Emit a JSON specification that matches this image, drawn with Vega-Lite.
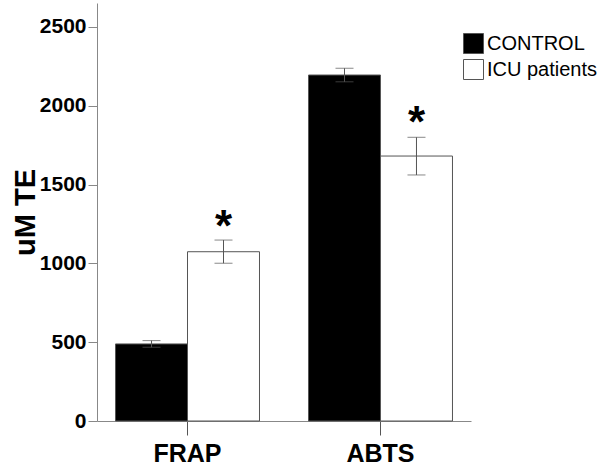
{
  "$schema": "https://vega.github.io/schema/vega-lite/v6.json",
  "width": 374,
  "height": 418,
  "autosize": {"type": "none"},
  "padding": {"left": 97, "top": 3, "right": 129, "bottom": 49},
  "config": {"view": {"stroke": null}, "font": "Liberation Sans"},
  "data": {
    "values": [
      {"assay": "FRAP", "group": "CONTROL", "mean": 489, "lo": 468, "hi": 510},
      {"assay": "FRAP", "group": "ICU patients", "mean": 1074, "lo": 1001, "hi": 1148, "star": 1143},
      {"assay": "ABTS", "group": "CONTROL", "mean": 2195, "lo": 2152, "hi": 2238},
      {"assay": "ABTS", "group": "ICU patients", "mean": 1681, "lo": 1561, "hi": 1800, "star": 1805}
    ]
  },
  "encoding": {
    "x": {
      "field": "assay",
      "type": "nominal",
      "sort": ["FRAP", "ABTS"],
      "scale": {"paddingInner": 0.254, "paddingOuter": 0.096},
      "axis": {
        "title": null,
        "labelAngle": 0,
        "labelFontSize": 25,
        "labelFontWeight": "bold",
        "labelColor": "#000",
        "tickSize": 14,
        "tickColor": "#555",
        "domainColor": "#888",
        "labelPadding": 6
      }
    },
    "xOffset": {
      "field": "group",
      "type": "nominal",
      "sort": ["CONTROL", "ICU patients"],
      "scale": {"paddingInner": 0, "paddingOuter": 0}
    }
  },
  "layer": [
    {
      "mark": {"type": "bar", "stroke": "#555", "strokeWidth": 1},
      "encoding": {
        "y": {
          "field": "mean",
          "type": "quantitative",
          "scale": {"domain": [0, 2652], "nice": false},
          "axis": {
            "values": [0, 500, 1000, 1500, 2000, 2500],
            "format": "d",
            "grid": false,
            "domainColor": "#888",
            "tickColor": "#888",
            "tickSize": 9,
            "labelFontSize": 21,
            "labelFontWeight": "bold",
            "labelColor": "#000",
            "labelPadding": 2,
            "title": "uM TE",
            "titleFontSize": 29,
            "titleFontWeight": "bold",
            "titleColor": "#000",
            "titlePadding": -1
          }
        },
        "fill": {
          "field": "group",
          "type": "nominal",
          "scale": {"domain": ["CONTROL", "ICU patients"], "range": ["#000000", "#ffffff"]},
          "legend": {
            "title": null,
            "orient": "none",
            "legendX": 366,
            "legendY": 30,
            "padding": 0,
            "symbolType": "square",
            "symbolSize": 400,
            "symbolStrokeColor": "#555",
            "symbolStrokeWidth": 1,
            "labelFontSize": 20,
            "labelColor": "#000",
            "labelOffset": 3,
            "rowPadding": 1
          }
        }
      }
    },
    {
      "mark": {"type": "rule", "color": "#555", "strokeWidth": 1},
      "encoding": {
        "y": {"field": "lo", "type": "quantitative"},
        "y2": {"field": "hi"}
      }
    },
    {
      "mark": {"type": "tick", "orient": "horizontal", "size": 18, "thickness": 1, "color": "#555"},
      "encoding": {"y": {"field": "hi", "type": "quantitative"}}
    },
    {
      "mark": {"type": "tick", "orient": "horizontal", "size": 18, "thickness": 1, "color": "#555"},
      "encoding": {"y": {"field": "lo", "type": "quantitative"}}
    },
    {
      "transform": [{"filter": "datum.star != null"}],
      "mark": {"type": "text", "text": "*", "fontSize": 44, "fontWeight": "bold", "baseline": "alphabetic", "color": "#000"},
      "encoding": {"y": {"field": "star", "type": "quantitative"}}
    }
  ]
}
